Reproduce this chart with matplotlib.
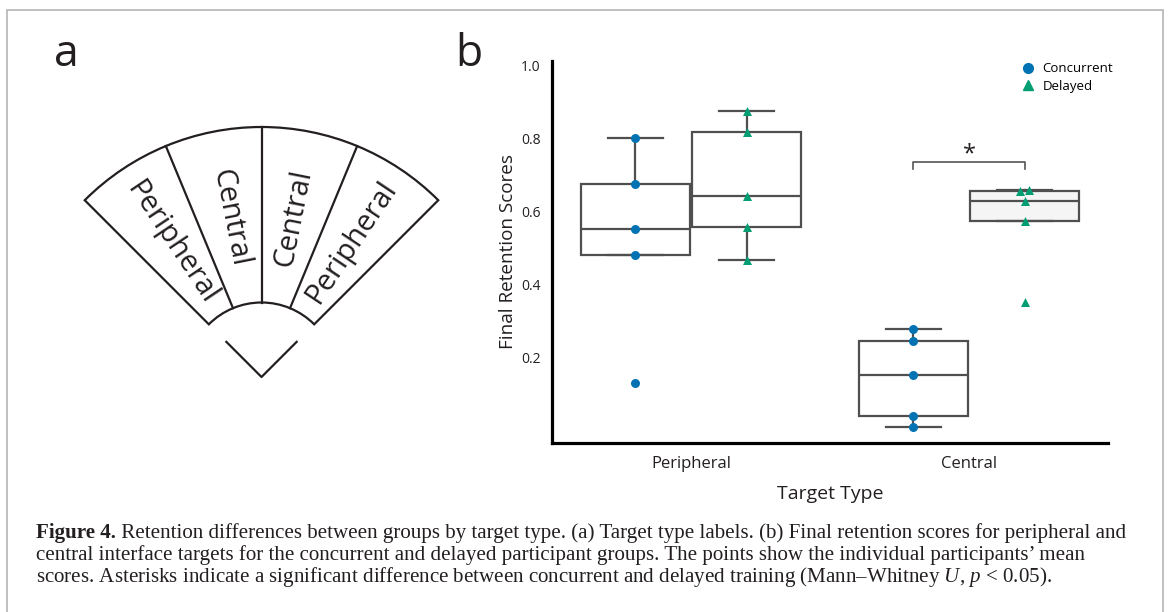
import numpy as np
import matplotlib.pyplot as plt
from matplotlib.patches import Wedge, Rectangle
from matplotlib.lines import Line2D

plt.rcParams['font.family'] = ['Open Sans', 'DejaVu Sans']
plt.rcParams['mathtext.fontset'] = 'custom'
plt.rcParams['mathtext.rm'] = 'Liberation Serif'
plt.rcParams['mathtext.it'] = 'Liberation Serif:italic'

# data
target_types = ["Peripheral", "Central"]
groups = ["Concurrent", "Delayed"]
peripheral_concurrent = [0.131, 0.482, 0.554, 0.676, 0.803]
peripheral_delayed = [0.468, 0.558, 0.644, 0.820, 0.877]
central_concurrent = [0.010, 0.041, 0.153, 0.246, 0.278]
central_delayed = [0.354, 0.574, 0.631, 0.658, 0.660]
scores = [[peripheral_concurrent, peripheral_delayed],
          [central_concurrent, central_delayed]]
yticks = [0.2, 0.4, 0.6, 0.8, 1.0]

fan_labels = ["Peripheral", "Central", "Central", "Peripheral"]

caption_bold = "Figure 4."
caption_lines = [
    " Retention differences between groups by target type. (a) Target type labels. (b) Final retention scores for peripheral and",
    "central interface targets for the concurrent and delayed participant groups. The points show the individual participants\u2019 mean",
    "scores. Asterisks indicate a significant difference between concurrent and delayed training (Mann\u2013Whitney $U$, $p$ < 0.05).",
]

colors = ["#0173B2", "#029E73"]
markers = ["o", "^"]
box_fill = ["white", "#f5f5f5"]
ink = "#231f20"
box_col = "#4f4f4f"

fig = plt.figure(figsize=(11.7, 6.12), dpi=100)

# overlay axes in pixel units for panel a, labels, caption, frame
ov = fig.add_axes([0, 0, 1, 1])
ov.set_xlim(0, 1170)
ov.set_ylim(0, 612)
ov.axis('off')

ov.add_patch(Rectangle((7, -20), 1156, 622, fill=False, ec="#b5b5b5", lw=1.2))

# ---- panel a: the fan of target types ----
cx, cy = 261.5, 235.0
r_out, r_in = 250.0, 74.5
ov.add_patch(Wedge((cx, cy), r_out, 45, 135, width=r_out - r_in,
                   fill=False, ec=ink, lw=1.6))
n = len(fan_labels)
step = 90.0 / n
for k in range(1, n):
    ang = np.deg2rad(45 + k * step)
    ov.plot([cx + r_in * np.cos(ang), cx + r_out * np.cos(ang)],
            [cy + r_in * np.sin(ang), cy + r_out * np.sin(ang)], color=ink, lw=1.6)
r_txt = 162
for k, lab in enumerate(fan_labels):
    a_deg = 135 - (k + 0.5) * step
    a = np.deg2rad(a_deg)
    rot = a_deg - 180 if a_deg > 90 else a_deg
    ov.text(cx + r_txt * np.cos(a), cy + r_txt * np.sin(a), lab, rotation=rot,
            rotation_mode='anchor', ha='center', va='center', fontsize=21, color=ink)
chev = 49.7
ov.plot([cx + chev * np.cos(np.deg2rad(135)), cx, cx + chev * np.cos(np.deg2rad(45))],
        [cy + chev * np.sin(np.deg2rad(135)), cy, cy + chev * np.sin(np.deg2rad(45))],
        color=ink, lw=1.6)

ov.text(66, 557, "a", fontsize=32, ha='center', va='center', color=ink)
ov.text(469, 557, "b", fontsize=32, ha='center', va='center', color=ink)

# ---- caption ----
cap_fs = 15.1
t1 = ov.text(36, 74, caption_bold, fontsize=cap_fs, fontweight='bold',
             family='Liberation Serif', color=ink, va='baseline')
ov.annotate(caption_lines[0], xy=(1, 0), xycoords=t1, va='bottom', ha='left',
            fontsize=cap_fs, family='Liberation Serif', color=ink)
for i, line in enumerate(caption_lines[1:]):
    ov.text(36, 74 - 22 * (i + 1), line, fontsize=cap_fs, family='Liberation Serif',
            color=ink, va='baseline')

# ---- panel b ----
ax = fig.add_axes([552 / 1170, 169 / 612, 556 / 1170, 382.3 / 612])
ax.set_xlim(-0.5, 1.5)
ax.set_ylim(-0.033, 1.0145)

width = 0.39
offs = [-0.2, 0.2]
for i, tt in enumerate(target_types):
    for j, g in enumerate(groups):
        vals = np.array(scores[i][j])
        pos = i + offs[j]
        ax.boxplot([vals], positions=[pos], widths=width, whis=1.5, showfliers=False,
                   patch_artist=True, manage_ticks=False,
                   boxprops=dict(facecolor=box_fill[j] if i == 1 else "white",
                                 edgecolor=box_col, lw=1.6),
                   medianprops=dict(color=box_col, lw=1.6),
                   whiskerprops=dict(color=box_col, lw=1.6),
                   capprops=dict(color=box_col, lw=1.6), zorder=2)
        # small swarm-like spread for near-identical values
        order = np.argsort(vals)
        xs = np.full(len(vals), pos)
        sv = vals[order]
        for k in range(1, len(sv)):
            if sv[k] - sv[k - 1] < 0.02:
                xs[order[k - 1]] = pos - 0.017
                xs[order[k]] = pos + 0.017
        ax.scatter(xs, vals, marker=markers[j], color=colors[j], s=42,
                   linewidths=0, zorder=3)

# significance bracket over the central groups
top = max(central_delayed) + 0.076
ax.plot([1 + offs[0], 1 + offs[0], 1 + offs[1], 1 + offs[1]],
        [top - 0.019, top, top, top - 0.019], color="#555555", lw=1.2)
ax.text(1, top - 0.01, "*", ha='center', va='bottom', fontsize=17, color=ink)

ax.set_xticks(range(len(target_types)))
ax.set_xticklabels(target_types, fontsize=12, color=ink)
ax.set_yticks(yticks)
ax.set_yticklabels([f"{v:.1f}" for v in yticks], fontsize=10, color=ink)
ax.tick_params(length=0)
ax.tick_params(axis='x', pad=9)
ax.tick_params(axis='y', pad=8)
ax.set_xlabel("Target Type", fontsize=14, color=ink, labelpad=10)
ax.set_ylabel("Final Retention Scores", fontsize=13.6, color=ink, labelpad=3)
for s in ["top", "right"]:
    ax.spines[s].set_visible(False)
for s in ["left", "bottom"]:
    ax.spines[s].set_linewidth(2.3)
    ax.spines[s].set_color("black")

handles = [Line2D([], [], ls='none', marker=markers[j], color=colors[j], markersize=7)
           for j in range(len(groups))]
ax.legend(handles, groups, loc='upper right', bbox_to_anchor=(1.019, 1.01),
          frameon=False, fontsize=9.5, handlelength=1, handletextpad=0.6,
          labelspacing=0.35, borderaxespad=0)

fig.savefig("out.png", dpi=100)
